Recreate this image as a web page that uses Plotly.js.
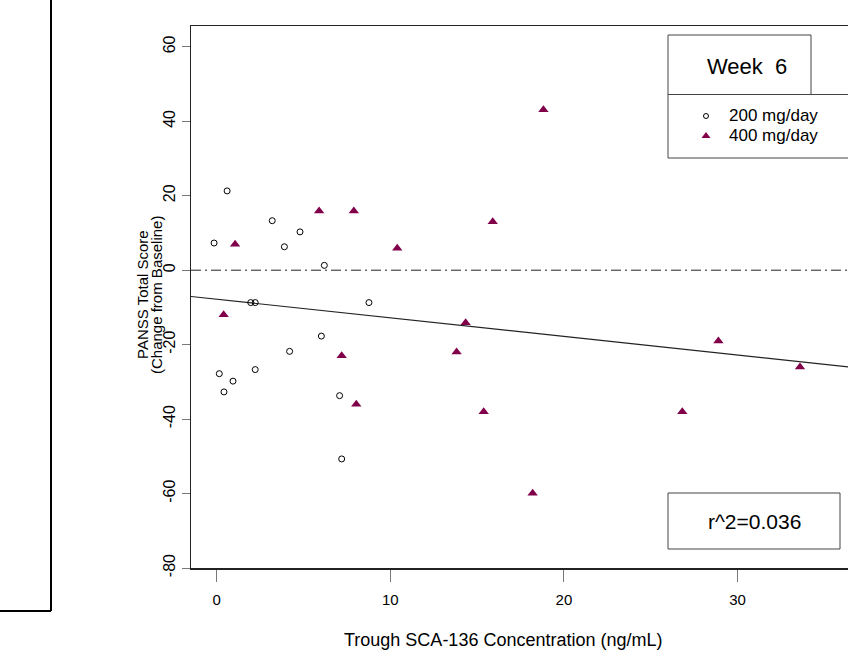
<!DOCTYPE html>
<html>
<head>
<meta charset="utf-8">
<script src="https://cdn.plot.ly/plotly-3.0.1.min.js"></script>
<style>
  html, body { margin: 0; padding: 0; overflow: hidden; background: #fff; }
  #chart { width: 900px; height: 651px; }
</style>
</head>
<body>
<div id="chart"></div>
<script>
// ---- data ----
const dose200X = [-0.15, 0.6, 3.2, 3.9, 4.8, 6.2, 1.96, 2.22, 8.77, 6.03, 4.2, 0.15, 0.94, 0.42, 2.22, 7.08, 7.2];
const dose200Y = [7.3, 21.3, 13.3, 6.3, 10.3, 1.3, -8.7, -8.7, -8.7, -17.7, -21.8, -27.8, -29.8, -32.7, -26.7, -33.7, -50.7];
const dose400X = [0.4, 1.06, 5.9, 7.9, 10.4, 7.2, 8.04, 13.82, 14.34, 15.38, 15.9, 18.82, 18.2, 26.82, 28.9, 33.6];
const dose400Y = [-12.0, 7.0, 15.9, 15.9, 5.9, -23.0, -36.0, -22.0, -14.1, -38.0, 13.0, 43.1, -59.9, -38.0, -19.0, -26.0];
const fitIntercept = -7.8;
const fitSlope = -0.5;
const seriesNames = ["200 mg/day", "400 mg/day"];
const xTicks = [0, 10, 20, 30];
const yTicks = [-80, -60, -40, -20, 0, 20, 40, 60];
const panelTitle = "Week\u00a0\u00a06";
const r2Label = "r^2=0.036";
const xTitle = "Trough SCA-136 Concentration (ng/mL)";
const yTitle1 = "PANSS Total Score";
const yTitle2 = "(Change from Baseline)";

// ---- layout geometry ----
const W = 900, H = 651;
const ML = 191, MR = 0, MT = 26, MB = 83;
const plotW = W - ML - MR, plotH = H - MT - MB;
const xRange = [-1.48, -1.48 + plotW / 17.36];
const yRange = [-80, 65.6];
const px = v => (v - ML) / plotW;
const py = v => (H - MB - v) / plotH;

const FONT = "Liberation Sans, Arial, sans-serif";
const COL400 = "#80004a";

const fitX = [xRange[0], xRange[1]];
const fitY = fitX.map(x => fitIntercept + fitSlope * x);

const traces = [
  {
    x: fitX, y: fitY, mode: "lines", type: "scatter",
    line: { color: "#222", width: 1.2 }, showlegend: false, hoverinfo: "skip"
  },
  {
    x: dose200X, y: dose200Y, mode: "markers", type: "scatter", name: seriesNames[0],
    marker: { symbol: "circle-open", size: 6, color: "#000", line: { width: 1, color: "#000" } }
  },
  {
    x: dose400X, y: dose400Y, mode: "markers", type: "scatter", name: seriesNames[1],
    marker: { symbol: "triangle-up", size: 9, color: COL400, line: { width: 0 } }
  }
];

function lineShape(x0, y0, x1, y1, color, width) {
  return { type: "line", xref: "paper", yref: "paper", x0: px(x0), y0: py(y0), x1: px(x1), y1: py(y1),
           line: { color: color, width: width } };
}

const shapes = [
  { type: "line", xref: "paper", yref: "y", x0: 0, x1: 1, y0: 0, y1: 0,
    line: { color: "#222", width: 1, dash: "10px,4px,2px,4px" } },
  // Week 6 box + legend box
  lineShape(668, 35, 811, 35, "#444", 1),
  lineShape(668, 35, 668, 158, "#444", 1),
  lineShape(811, 35, 811, 94.5, "#444", 1),
  lineShape(668, 94.5, 920, 94.5, "#444", 1),
  lineShape(668, 158, 920, 158, "#444", 1),
  // legend keys
  { type: "circle", xref: "paper", yref: "paper", x0: px(703.5), x1: px(708.5), y0: py(118.5), y1: py(113.5),
    line: { color: "#000", width: 1 }, fillcolor: "rgba(0,0,0,0)" },
  { type: "path", xref: "paper", yref: "paper",
    path: "M " + px(701.5) + "," + py(138) + " L " + px(710.5) + "," + py(138) + " L " + px(706) + "," + py(132) + " Z",
    line: { width: 0 }, fillcolor: COL400 },
  // r^2 box
  { type: "rect", xref: "paper", yref: "paper", x0: px(668), x1: px(840), y0: py(549), y1: py(493),
    line: { color: "#444", width: 1 }, fillcolor: "rgba(0,0,0,0)" },
  // left frame
  lineShape(51, -2, 51, 611, "#000", 2),
  lineShape(-2, 611, 51, 611, "#000", 2)
];

const annotations = [
  { text: panelTitle, xref: "paper", yref: "paper", x: px(746.5), y: py(67), xanchor: "center", yanchor: "middle",
    showarrow: false, font: { family: FONT, size: 22, color: "#000" } },
  { text: seriesNames[0], xref: "paper", yref: "paper", x: px(727), y: py(116), xanchor: "left", yanchor: "middle",
    showarrow: false, font: { family: FONT, size: 17, color: "#000" } },
  { text: seriesNames[1], xref: "paper", yref: "paper", x: px(727), y: py(135), xanchor: "left", yanchor: "middle",
    showarrow: false, font: { family: FONT, size: 17, color: "#000" } },
  { text: r2Label, xref: "paper", yref: "paper", x: px(754.5), y: py(521), xanchor: "center", yanchor: "middle",
    showarrow: false, font: { family: FONT, size: 21, color: "#000" } },
  { text: xTitle, xref: "paper", yref: "paper", x: px(503), y: py(640), xanchor: "center", yanchor: "middle",
    showarrow: false, font: { family: FONT, size: 18, color: "#000" } },
  { text: yTitle1, xref: "paper", yref: "paper", x: px(142), y: py(295), xanchor: "center", yanchor: "middle",
    textangle: -90, showarrow: false, font: { family: FONT, size: 15, color: "#000" } },
  { text: yTitle2, xref: "paper", yref: "paper", x: px(156), y: py(295), xanchor: "center", yanchor: "middle",
    textangle: -90, showarrow: false, font: { family: FONT, size: 15, color: "#000" } }
];

const layout = {
  width: W, height: H,
  margin: { l: ML, r: MR, t: MT, b: MB, pad: 0 },
  paper_bgcolor: "#fff", plot_bgcolor: "#fff",
  font: { family: FONT, color: "#000" },
  showlegend: false,
  xaxis: {
    range: xRange, tickvals: xTicks, ticktext: xTicks.map(String),
    showgrid: false, zeroline: false, showline: true, linecolor: "#222", linewidth: 1.5, mirror: true,
    ticks: "outside", ticklen: 12, tickcolor: "#777", tickwidth: 1,
    tickfont: { family: FONT, size: 15, color: "#000" }, ticklabelstandoff: 5
  },
  yaxis: {
    range: yRange, tickvals: yTicks, ticktext: yTicks.map(String),
    showgrid: false, zeroline: false, showline: true, linecolor: "#222", linewidth: 1.5,
    ticks: "outside", ticklen: 8, tickcolor: "#777", tickwidth: 1, tickangle: -90,
    tickfont: { family: FONT, size: 16, color: "#000" }, ticklabelstandoff: 0
  },
  shapes: shapes,
  annotations: annotations
};

Plotly.newPlot("chart", traces, layout, { staticPlot: true, displayModeBar: false });
</script>
</body>
</html>
